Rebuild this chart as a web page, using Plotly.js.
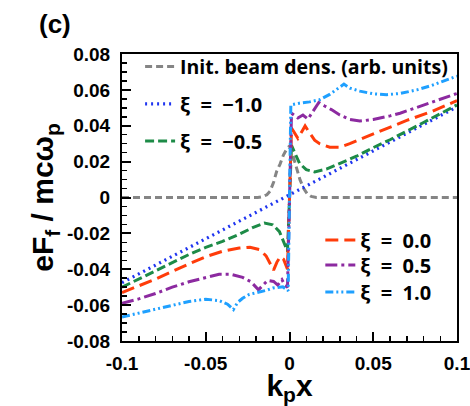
<!DOCTYPE html>
<html>
<head>
<meta charset="utf-8">
<script src="https://cdn.plot.ly/plotly-3.0.1.min.js"></script>
<style>
  html, body { margin: 0; padding: 0; background: #fff; }
  #chart { width: 470px; height: 406px; }
</style>
</head>
<body>
<div id="chart"></div>
<script>
// Initial beam density profile (arbitrary units)
const beamX = [-0.1, -0.019, -0.016, -0.0135, -0.0116, -0.0095, -0.0077, -0.0057, -0.0037, -0.002, -0.0005, 0.001, 0.0025, 0.0045, 0.0063, 0.0085, 0.0105, 0.013, 0.016, 0.1];
const beamY = [0, 0, 0.0005, 0.0015, 0.0035, 0.0085, 0.0145, 0.0185, 0.0235, 0.0265, 0.0282, 0.027, 0.022, 0.0155, 0.0098, 0.005, 0.0022, 0.0006, 0, 0];

// Focusing field at xi = -1.0
const xiM10X = [-0.1, 0.1];
const xiM10Y = [-0.0475, 0.0505];

// Focusing field at xi = -0.5
const xiM05X = [-0.1, -0.08, -0.06, -0.05, -0.04, -0.03, -0.022, -0.015, -0.01, -0.006, -0.003, -0.0012,
                0.0012, 0.003, 0.006, 0.01, 0.015, 0.022, 0.03, 0.04, 0.05, 0.06, 0.08, 0.1];
const xiM05Y = [-0.050, -0.0408, -0.0318, -0.0278, -0.0245, -0.0205, -0.0168, -0.0143, -0.0152, -0.019, -0.026, -0.030,
                0.029, 0.025, 0.019, 0.0155, 0.0143, 0.0158, 0.019, 0.023, 0.0278, 0.0322, 0.0418, 0.0516];

// Focusing field at xi = 0.0
const xi00X = [-0.1, -0.08, -0.06, -0.05, -0.04, -0.03, -0.0236, -0.018, -0.014, -0.011, -0.0095, -0.0075, -0.0055, -0.0035, -0.0012,
               0.0012, 0.003, 0.005, 0.0075, 0.0093, 0.012, 0.015, 0.018, 0.024, 0.03, 0.036, 0.045, 0.054, 0.07, 0.085, 0.1];
const xi00Y = [-0.053, -0.0455, -0.037, -0.033, -0.030, -0.0282, -0.0277, -0.029, -0.0325, -0.038, -0.0405, -0.036, -0.033, -0.0345, -0.040,
               0.0387, 0.036, 0.033, 0.037, 0.0399, 0.036, 0.032, 0.030, 0.028, 0.028, 0.030, 0.0335, 0.037, 0.043, 0.048, 0.054];

// Focusing field at xi = 0.5
const xi05X = [-0.1, -0.09, -0.08, -0.07, -0.06, -0.05, -0.042, -0.035, -0.028, -0.023, -0.0185, -0.016, -0.013, -0.0095, -0.007, -0.0045, -0.0027, -0.0012,
               0.0012, 0.005, 0.008, 0.011, 0.014, 0.0175, 0.021, 0.025, 0.03, 0.036, 0.042, 0.05, 0.06, 0.066, 0.08, 0.09, 0.1];
const xi05Y = [-0.059, -0.0565, -0.0535, -0.050, -0.047, -0.0445, -0.0428, -0.0428, -0.0445, -0.047, -0.0515, -0.049, -0.0462, -0.0468, -0.0488, -0.0458, -0.049, -0.050,
               0.047, 0.0443, 0.046, 0.0437, 0.048, 0.053, 0.051, 0.049, 0.046, 0.0435, 0.0426, 0.0435, 0.0455, 0.047, 0.0515, 0.0548, 0.058];

// Focusing field at xi = 1.0
const xi10X = [-0.1, -0.09, -0.08, -0.07, -0.06, -0.05, -0.042, -0.037, -0.0335, -0.031, -0.028, -0.024, -0.018, -0.014, -0.01, -0.004, -0.002, -0.0008,
               0.0008, 0.006, 0.012, 0.018, 0.024, 0.029, 0.0325, 0.036, 0.042, 0.05, 0.058, 0.066, 0.076, 0.085, 0.1];
const xi10Y = [-0.0666, -0.0645, -0.0622, -0.060, -0.058, -0.0567, -0.0575, -0.0595, -0.0625, -0.0585, -0.0562, -0.054, -0.0527, -0.0518, -0.0505, -0.0498, -0.0512, -0.052,
               0.0516, 0.0526, 0.0533, 0.0545, 0.0575, 0.061, 0.0632, 0.061, 0.0593, 0.0578, 0.0573, 0.058, 0.060, 0.0625, 0.0677];

const xTickVals = [-0.1, -0.05, 0, 0.05, 0.1];
const xTickText = ['-0.1', '-0.05', '0', '0.05', '0.1'];
const yTickVals = [-0.08, -0.06, -0.04, -0.02, 0, 0.02, 0.04, 0.06, 0.08];
const yTickText = ['-0.08', '-0.06', '-0.04', '-0.02', '0', '0.02', '0.04', '0.06', '0.08'];

const SP = '\u00a0\u00a0';
const LW = 3;
const traces = [
  { x: beamX, y: beamY, name: 'Init. beam dens. (arb. units)', legend: 'legend',
    line: { color: '#858585', width: LW, dash: '7px,4px' } },
  { x: xiM10X, y: xiM10Y, name: 'ξ' + SP + '=' + SP + '−1.0', legend: 'legend2',
    line: { color: '#1f35f0', width: 3.2, dash: '2px,4px' } },
  { x: xiM05X, y: xiM05Y, name: 'ξ' + SP + '=' + SP + '−0.5', legend: 'legend3',
    line: { color: '#1d8b47', width: LW, dash: '9px,4px' } },
  { x: xi00X, y: xi00Y, name: 'ξ' + SP + '=' + SP + '0.0', legend: 'legend4',
    line: { color: '#ff3c0a', width: LW, dash: '13px,6px' } },
  { x: xi05X, y: xi05Y, name: 'ξ' + SP + '=' + SP + '0.5', legend: 'legend5',
    line: { color: '#8c2aa0', width: LW, dash: '12px,4px,3px,4px' } },
  { x: xi10X, y: xi10Y, name: 'ξ' + SP + '=' + SP + '1.0', legend: 'legend6',
    line: { color: '#1fa0ff', width: LW, dash: '8px,3px,2px,3px,2px,3px' } }
].map(t => Object.assign({ type: 'scatter', mode: 'lines' }, t));

const tickFont = { family: 'Liberation Sans, Arial, sans-serif', size: 19, color: '#000', weight: 'bold' };
const legFont = { family: 'Open Sans, sans-serif', size: 20, color: '#000', weight: 'bold' };

// one legend box per entry so each row sits where it belongs
function legendAt(x, y, size) {
  return { x: x, y: y, xanchor: 'left', yanchor: 'middle',
           bgcolor: 'rgba(0,0,0,0)', borderwidth: 0,
           font: Object.assign({}, legFont, size ? { size: size } : {}) };
}

const layout = {
  width: 470, height: 406,
  margin: { l: 122, r: 13, t: 54, b: 65, autoexpand: false },
  paper_bgcolor: '#fff', plot_bgcolor: '#fff',
  showlegend: true,
  xaxis: {
    range: [-0.1, 0.1], tickmode: 'array', tickvals: xTickVals, ticktext: xTickText,
    ticks: 'inside', ticklen: 9, tickwidth: 2, tickcolor: '#000',
    minor: { tick0: 0, dtick: 0.01, ticks: 'inside', ticklen: 5, tickwidth: 1.5, tickcolor: '#000' },
    showline: true, linewidth: 2, linecolor: '#000', mirror: true,
    showgrid: false, zeroline: false, tickfont: tickFont, ticklabelstandoff: 4,
    ticklabeloverflow: 'allow', automargin: false,
    title: { text: 'k<sub>p</sub>x', font: { family: 'Liberation Sans, Arial, sans-serif', size: 30, color: '#000', weight: 'bold' }, standoff: 2 }
  },
  yaxis: {
    range: [-0.08, 0.08], tickmode: 'array', tickvals: yTickVals, ticktext: yTickText,
    ticks: 'inside', ticklen: 9, tickwidth: 2, tickcolor: '#000',
    minor: { tick0: 0, dtick: 0.005, ticks: 'inside', ticklen: 5, tickwidth: 1.5, tickcolor: '#000' },
    showline: true, linewidth: 2, linecolor: '#000', mirror: true,
    showgrid: false, zeroline: false, tickfont: tickFont, ticklabelstandoff: 6,
    ticklabeloverflow: 'allow', automargin: false,
    title: { text: 'eF<sub>f</sub> / mcω<sub>p</sub>', font: { family: 'Liberation Sans, Arial, sans-serif', size: 30, color: '#000', weight: 'bold' }, standoff: 4 }
  },
  legend: legendAt(0.054, 0.955, 19.5),
  legend2: legendAt(0.054, 0.826),
  legend3: legendAt(0.054, 0.697),
  legend4: legendAt(0.592, 0.352),
  legend5: legendAt(0.592, 0.265),
  legend6: legendAt(0.592, 0.171),
  annotations: [
    { text: '(c)', xref: 'paper', yref: 'paper', x: -0.2, y: 1.105, xanchor: 'center', yanchor: 'middle',
      showarrow: false, font: { family: 'Liberation Sans, Arial, sans-serif', size: 26, color: '#000', weight: 'bold' } }
  ]
};

Plotly.newPlot('chart', traces, layout, { staticPlot: true, displayModeBar: false });
</script>
</body>
</html>
